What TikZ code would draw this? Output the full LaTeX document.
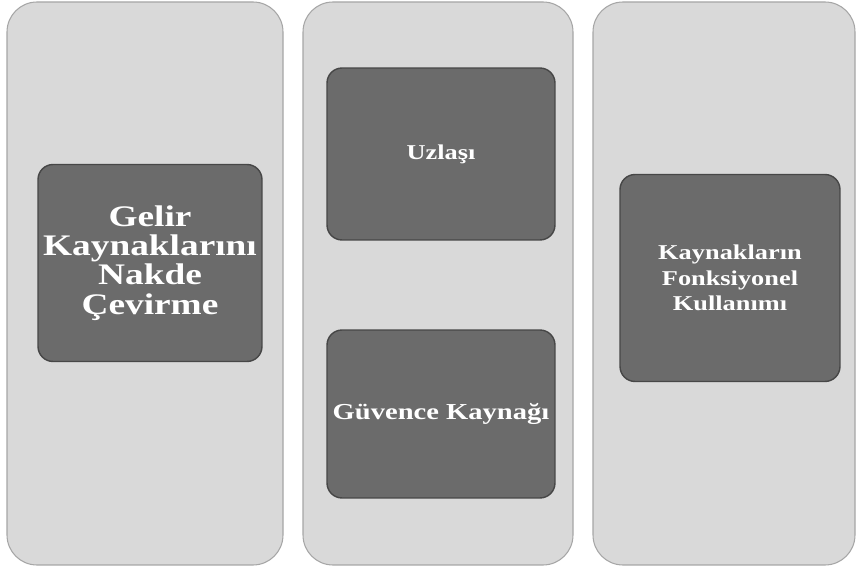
\documentclass[tikz,border=0pt]{standalone}
\usepackage{fontspec}
\newfontfamily\boxfont[FakeStretch=1.25]{Liberation Serif}
\usetikzlibrary{positioning}

\begin{document}
\begin{tikzpicture}[x=0.02cm,y=-0.02cm,
  panel/.style={fill=black!15,draw=black!35,line width=0.6pt,rounded corners=0.6cm},
  kutu/.style={fill=black!58,draw=black!72,line width=0.8pt,rounded corners=0.3cm,
    text=white,align=center,font=\boxfont\bfseries,inner sep=1pt}]
  \useasboundingbox (0,0) rectangle (859,570);
  % arka paneller
  \draw[panel] (7,2) rectangle (283,565);
  \draw[panel] (303,2) rectangle (573,565);
  \draw[panel] (593,2) rectangle (855,565);
  % kutular
  \node[kutu,minimum width=4.48cm,minimum height=3.94cm,
    font=\boxfont\bfseries\fontsize{17}{16.6}\selectfont] (gelir) at (150,263)
    {Gelir\\Kaynaklarını\\Nakde\\Çevirme};
  \node[kutu,minimum width=4.56cm,minimum height=3.44cm,
    font=\boxfont\bfseries\fontsize{12}{14}\selectfont] (uzlasi) at (441,154) {Uzlaşı};
  \node[kutu,minimum width=4.56cm,minimum height=3.36cm,
    font=\boxfont\bfseries\fontsize{13}{15}\selectfont] (guvence) at (441,414) {Güvence Kaynağı};
  \node[kutu,minimum width=4.4cm,minimum height=4.14cm,
    font=\boxfont\bfseries\fontsize{12}{14.5}\selectfont] (kaynak) at (730,278)
    {Kaynakların\\Fonksiyonel\\Kullanımı};
\end{tikzpicture}
\end{document}
